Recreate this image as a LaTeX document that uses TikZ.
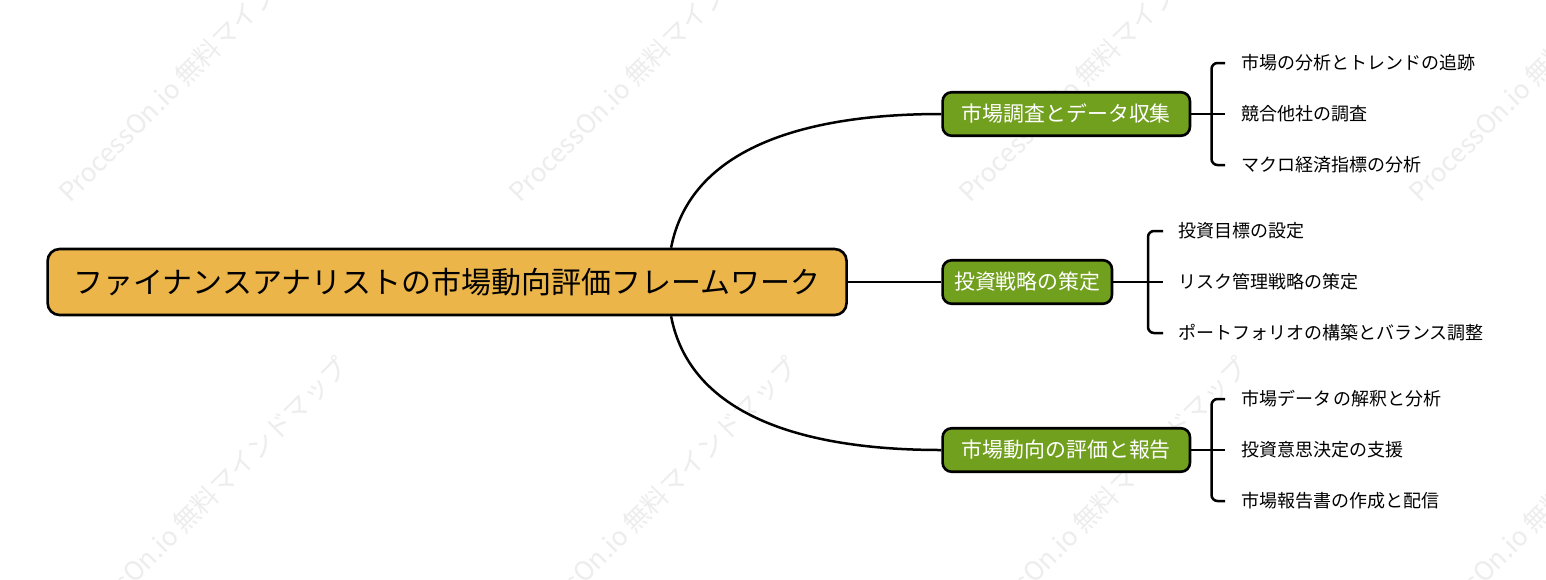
\documentclass[tikz,border=0pt]{standalone}
\usepackage{fontspec}
\setmainfont{Noto Sans CJK JP}
\definecolor{rootfill}{HTML}{EBB54A}
\definecolor{branchfill}{HTML}{719F1E}
\definecolor{wmgray}{HTML}{EDEDED}
\begin{document}
\begin{tikzpicture}[x=1pt,y=-1pt,
  rootbox/.style={draw=black, line width=2.6pt, fill=rootfill, rounded corners=12pt,
    minimum height=66pt, minimum width=799pt, inner sep=0pt,
    font=\fontsize{30}{32}\selectfont, text height=26.4pt, text depth=3.6pt},
  branchbox/.style={draw=black, line width=2.6pt, fill=branchfill, rounded corners=9pt,
    minimum height=43.5pt, inner sep=0pt, text=white,
    font=\fontsize{20.9}{22}\selectfont, text height=18.4pt, text depth=2.5pt},
  leaf/.style={inner sep=0pt, anchor=west, font=\fontsize{18}{20}\selectfont,
    text height=15.8pt, text depth=2.2pt},
  link/.style={draw=black, line width=2.5pt},
  brace/.style={draw=black, line width=2.5pt, rounded corners=6pt},
  wmark/.style={text=wmgray, anchor=base west, rotate=45, inner sep=0pt,
    font=\fontsize{26}{28}\selectfont}
]
\useasboundingbox (0,0) rectangle (1546,579);
\fill[white] (0,0) rectangle (1546,579);

% watermarks
\begin{scope}
\clip (0,0) rectangle (1546,579);
\foreach \wx in {70,520,970,1420}{
  \node[wmark] (wma\wx) at (\wx,204) {ProcessOn.io 無料マインドマップ};
  \node[wmark] (wmb\wx) at (\wx-2,651) {ProcessOn.io 無料マインドマップ};
}
\end{scope}

% root
\node[rootbox, anchor=west] (root) at (46.3,282) {ファイナンスアナリストの市場動向評価フレームワーク};

% branches
\node[branchbox, anchor=west, minimum width=247.4pt] (b1) at (941.3,114) {市場調査とデータ収集};
\node[branchbox, anchor=west, minimum width=169.4pt] (b2) at (941.3,282) {投資戦略の策定};
\node[branchbox, anchor=west, minimum width=247.4pt] (b3) at (941.3,450) {市場動向の評価と報告};

% leaves
\node[leaf] (a1) at (1241,63) {市場の分析とトレンドの追跡};
\node[leaf] (a2) at (1241,114) {競合他社の調査};
\node[leaf] (a3) at (1241,165) {マクロ経済指標の分析};
\node[leaf] (c1) at (1178,231) {投資目標の設定};
\node[leaf] (c2) at (1178,282) {リスク管理戦略の策定};
\node[leaf] (c3) at (1178,333) {ポートフォリオの構築とバランス調整};
\node[leaf] (d1) at (1241,399) {市場データ\hspace{-2pt} の解釈と分析};
\node[leaf] (d2) at (1241,450) {投資意思決定の支援};
\node[leaf] (d3) at (1241,501) {市場報告書の作成と配信};

% junction coordinates
\coordinate (j1) at (1211.5,114);
\coordinate (j2) at (1148,282);
\coordinate (j3) at (1211.5,450);

% root to branches
\draw[link] ([xshift=224pt]root.north) .. controls (690,150) and (800,114) .. (b1.west);
\draw[link] (root.east) -- (b2.west);
\draw[link] ([xshift=224pt]root.south) .. controls (690,414) and (800,450) .. (b3.west);

% brackets
\draw[link] (b1.east) -- ([xshift=-16pt]a2.west);
\draw[brace] ([xshift=-16pt]a1.west) -| (j1) |- ([xshift=-16pt]a3.west);
\draw[link] (b2.east) -- ([xshift=-15pt]c2.west);
\draw[brace] ([xshift=-15pt]c1.west) -| (j2) |- ([xshift=-15pt]c3.west);
\draw[link] (b3.east) -- ([xshift=-16pt]d2.west);
\draw[brace] ([xshift=-16pt]d1.west) -| (j3) |- ([xshift=-16pt]d3.west);
\end{tikzpicture}
\end{document}
